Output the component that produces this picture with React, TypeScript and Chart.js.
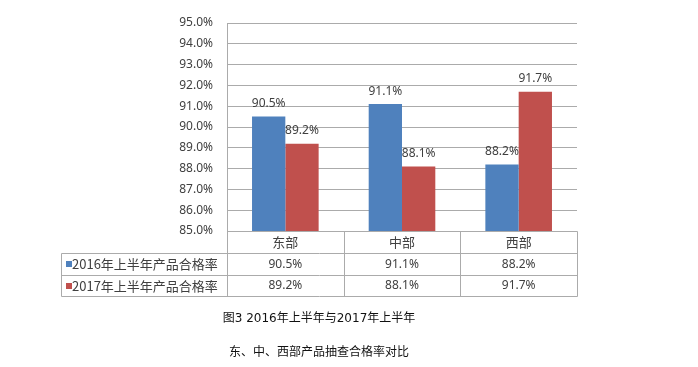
import React, { useEffect, useRef } from "react";
import { Chart, registerables } from "chart.js";

Chart.register(...registerables);

const categories = ["东部", "中部", "西部"];
const seriesNames = ["2016年上半年产品合格率", "2017年上半年产品合格率"];
const series2016 = [90.5, 91.1, 88.2];
const series2017 = [89.2, 88.1, 91.7];
const yMin = 85;
const yMax = 95;
const yStep = 1;
const captionLines = ["图3 2016年上半年与2017年上半年", "东、中、西部产品抽查合格率对比"];

const BLUE = "#4F81BD";
const RED = "#C0504D";
const GRID = "#ababab";
const TEXT = "#404040";
const CJK_FONT = '"Noto Sans CJK SC", "Noto Sans", sans-serif';
const NUM_FONT = '"Noto Sans", "Open Sans", sans-serif';

const fmt = (v: number) => v.toFixed(1) + "%";

const tablePlugin = {
  id: "tablePlugin",
  afterDraw(chart: any) {
    const ctx = chart.ctx as CanvasRenderingContext2D;
    const area = chart.chartArea;
    const colors = [BLUE, RED];
    const dataSets = [series2016, series2017];

    // value labels above bars
    ctx.save();
    ctx.fillStyle = TEXT;
    ctx.font = `12px ${NUM_FONT}`;
    ctx.textAlign = "center";
    ctx.textBaseline = "middle";
    chart.data.datasets.forEach((ds: any, di: number) => {
      const meta = chart.getDatasetMeta(di);
      meta.data.forEach((el: any, i: number) => {
        ctx.fillText(fmt(ds.data[i]), el.x, el.y - 13);
      });
    });
    ctx.restore();

    // data table
    const left = area.left;
    const right = area.right;
    const colW = (right - left) / categories.length;
    const tableLeft = 61;
    const rowH = 21.8;
    const r0 = area.bottom;
    const r1 = r0 + rowH;
    const r2 = r1 + rowH;
    const r3 = r2 + rowH;
    const px = (v: number) => Math.round(v) + 0.5;

    ctx.save();
    ctx.strokeStyle = GRID;
    ctx.lineWidth = 1;
    ctx.beginPath();
    // horizontal lines
    ctx.moveTo(px(left), px(r0));
    ctx.lineTo(px(right), px(r0));
    [r1, r2, r3].forEach((y) => {
      ctx.moveTo(px(tableLeft), px(y));
      ctx.lineTo(px(right), px(y));
    });
    // vertical lines
    for (let i = 0; i <= categories.length; i++) {
      const x = px(left + i * colW);
      ctx.moveTo(x, px(r0));
      ctx.lineTo(x, px(r3));
    }
    ctx.moveTo(px(tableLeft), px(r1));
    ctx.lineTo(px(tableLeft), px(r3));
    ctx.stroke();

    ctx.fillStyle = TEXT;
    ctx.textBaseline = "middle";
    ctx.textAlign = "center";
    ctx.font = `13px ${CJK_FONT}`;
    categories.forEach((c, i) => {
      const x = chart.scales.x.getPixelForValue(i);
      ctx.fillText(c, x, (r0 + r1) / 2 + 0.5);
    });
    const rowsTop = [r1, r2];
    dataSets.forEach((vals, di) => {
      const cy = rowsTop[di] + rowH / 2 + 0.5;
      ctx.fillStyle = colors[di];
      ctx.fillRect(tableLeft + 5, Math.round(cy - 3), 6, 6);
      ctx.fillStyle = TEXT;
      ctx.textAlign = "left";
      ctx.font = `13px ${CJK_FONT}`;
      ctx.fillText(seriesNames[di], tableLeft + 11, cy);
      ctx.textAlign = "center";
      ctx.font = `12px ${NUM_FONT}`;
      vals.forEach((v, i) => {
        const x = chart.scales.x.getPixelForValue(i);
        ctx.fillText(fmt(v), x, cy);
      });
    });

    // caption
    ctx.fillStyle = "#111";
    ctx.textAlign = "center";
    ctx.font = `12px "DejaVu Sans", ${CJK_FONT}`;
    const cx = 319;
    ctx.fillText(captionLines[0], cx, 319);
    ctx.fillText(captionLines[1], cx, 353);
    ctx.restore();
  },
};

export default function App() {
  const canvasRef = useRef<HTMLCanvasElement | null>(null);

  useEffect(() => {
    const canvas = canvasRef.current;
    if (!canvas) return;
    const chart = new Chart(canvas, {
      type: "bar",
      data: {
        labels: categories,
        datasets: [
          {
            label: seriesNames[0],
            data: series2016,
            backgroundColor: BLUE,
            borderWidth: 0,
          },
          {
            label: seriesNames[1],
            data: series2017,
            backgroundColor: RED,
            borderWidth: 0,
          },
        ],
      },
      options: {
        responsive: false,
        animation: false,
        devicePixelRatio: 1,
        layout: { padding: { left: 0, right: 121, top: 23, bottom: 136 } },
        plugins: {
          legend: { display: false },
          tooltip: { enabled: false },
          title: { display: false },
        },
        datasets: {
          bar: { categoryPercentage: 0.571, barPercentage: 1 },
        },
        scales: {
          x: { display: false },
          y: {
            min: yMin,
            max: yMax,
            afterFit: (scale: any) => {
              scale.width = 227;
            },
            ticks: {
              stepSize: yStep,
              padding: 14,
              color: TEXT,
              font: { size: 12, family: NUM_FONT },
              callback: (v: any) => fmt(Number(v)),
            },
            grid: { color: GRID, lineWidth: 1, drawTicks: false },
            border: { display: true, color: GRID, width: 1 },
          },
        },
      },
      plugins: [tablePlugin],
    });
    return () => chart.destroy();
  }, []);

  return (
    <div style={{ position: "absolute", left: 0, top: 0, width: 698, height: 367, background: "#fff" }}>
      <canvas ref={canvasRef} width={698} height={367} style={{ width: 698, height: 367, display: "block" }} />
    </div>
  );
}
